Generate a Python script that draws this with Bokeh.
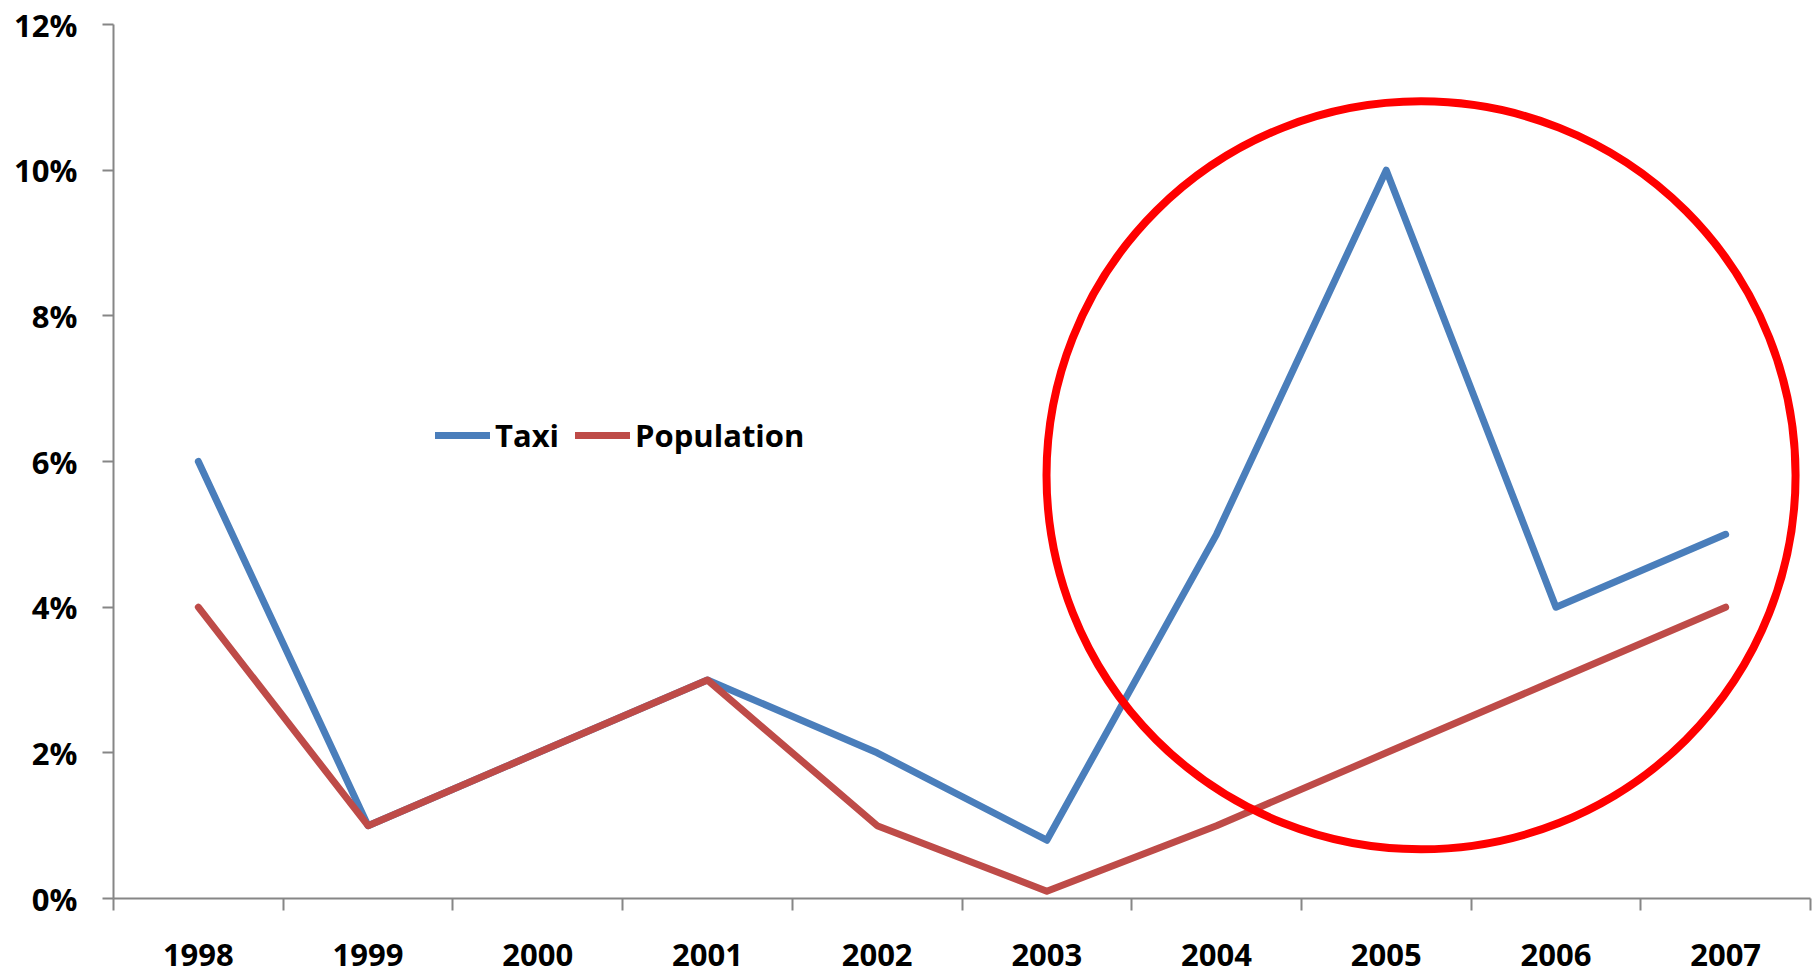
from bokeh.plotting import figure
from bokeh.models import FixedTicker, NumeralTickFormatter, Legend, LegendItem, Range1d
from bokeh.embed import file_html
from bokeh.resources import INLINE

years = ["1998", "1999", "2000", "2001", "2002", "2003", "2004", "2005", "2006", "2007"]
taxi = [0.06, 0.01, 0.02, 0.03, 0.02, 0.008, 0.05, 0.10, 0.04, 0.05]
population = [0.04, 0.01, 0.02, 0.03, 0.01, 0.001, 0.01, 0.02, 0.03, 0.04]
y_ticks = [0.0, 0.02, 0.04, 0.06, 0.08, 0.10, 0.12]

# highlight ellipse (data coordinates)
circle_x = 7.205
circle_y = 0.0581
circle_w = 4.414
circle_h = 0.1027

xs = list(range(len(years)))

FONT = "Open Sans"
AXIS_COLOR = "#868686"

p = figure(frame_width=1697, frame_height=874, output_backend="svg", toolbar_location=None,
           x_range=Range1d(-0.5, len(years) - 0.5), y_range=Range1d(0, 0.12),
           min_border_left=113, min_border_top=24, min_border_right=8, min_border_bottom=77)
p.outline_line_color = None
p.xgrid.visible = False
p.ygrid.visible = False
p.background_fill_color = "white"
p.border_fill_color = "white"

r_taxi = p.line(xs, taxi, line_color="#4A7EBB", line_width=7, line_join="round", line_cap="round")
r_pop = p.line(xs, population, line_color="#BE4B48", line_width=7, line_join="round", line_cap="round")

p.ellipse(x=[circle_x], y=[circle_y], width=[circle_w], height=[circle_h],
          fill_color=None, line_color="#FF0000", line_width=8)

# x axis: labels at centers, tick marks at category boundaries
xa = p.xaxis[0]
xa.ticker = FixedTicker(ticks=xs, minor_ticks=[i - 0.5 for i in range(len(years) + 1)])
xa.major_label_overrides = {i: y for i, y in enumerate(years)}
xa.major_tick_in = 0
xa.major_tick_out = 0
xa.minor_tick_in = 0
xa.minor_tick_out = 12
xa.minor_tick_line_color = AXIS_COLOR
xa.minor_tick_line_width = 2
xa.axis_line_color = AXIS_COLOR
xa.axis_line_width = 2
xa.major_label_text_font = FONT
xa.major_label_text_font_style = "bold"
xa.major_label_text_font_size = "31px"
xa.major_label_text_color = "black"
xa.major_label_standoff = 33

ya = p.yaxis[0]
ya.ticker = FixedTicker(ticks=y_ticks, minor_ticks=[])
ya.formatter = NumeralTickFormatter(format="0%")
ya.major_tick_in = 0
ya.major_tick_out = 11
ya.major_tick_line_color = AXIS_COLOR
ya.major_tick_line_width = 2
ya.axis_line_color = AXIS_COLOR
ya.axis_line_width = 2
ya.major_label_text_font = FONT
ya.major_label_text_font_style = "bold"
ya.major_label_text_font_size = "31px"
ya.major_label_text_color = "black"
ya.major_label_standoff = 25

legend = Legend(items=[LegendItem(label="Taxi", renderers=[r_taxi]),
                       LegendItem(label="Population", renderers=[r_pop])],
                location=(322, 442), orientation="horizontal")
legend.border_line_color = None
legend.background_fill_alpha = 0
legend.padding = 0
legend.margin = 0
legend.spacing = 16
legend.label_standoff = 5
legend.glyph_width = 55
legend.glyph_height = 30
legend.label_height = 30
legend.label_text_font = FONT
legend.label_text_font_style = "bold"
legend.label_text_font_size = "31px"
legend.label_text_color = "black"
p.add_layout(legend)

open("out.html", "w").write(file_html(p, INLINE))
